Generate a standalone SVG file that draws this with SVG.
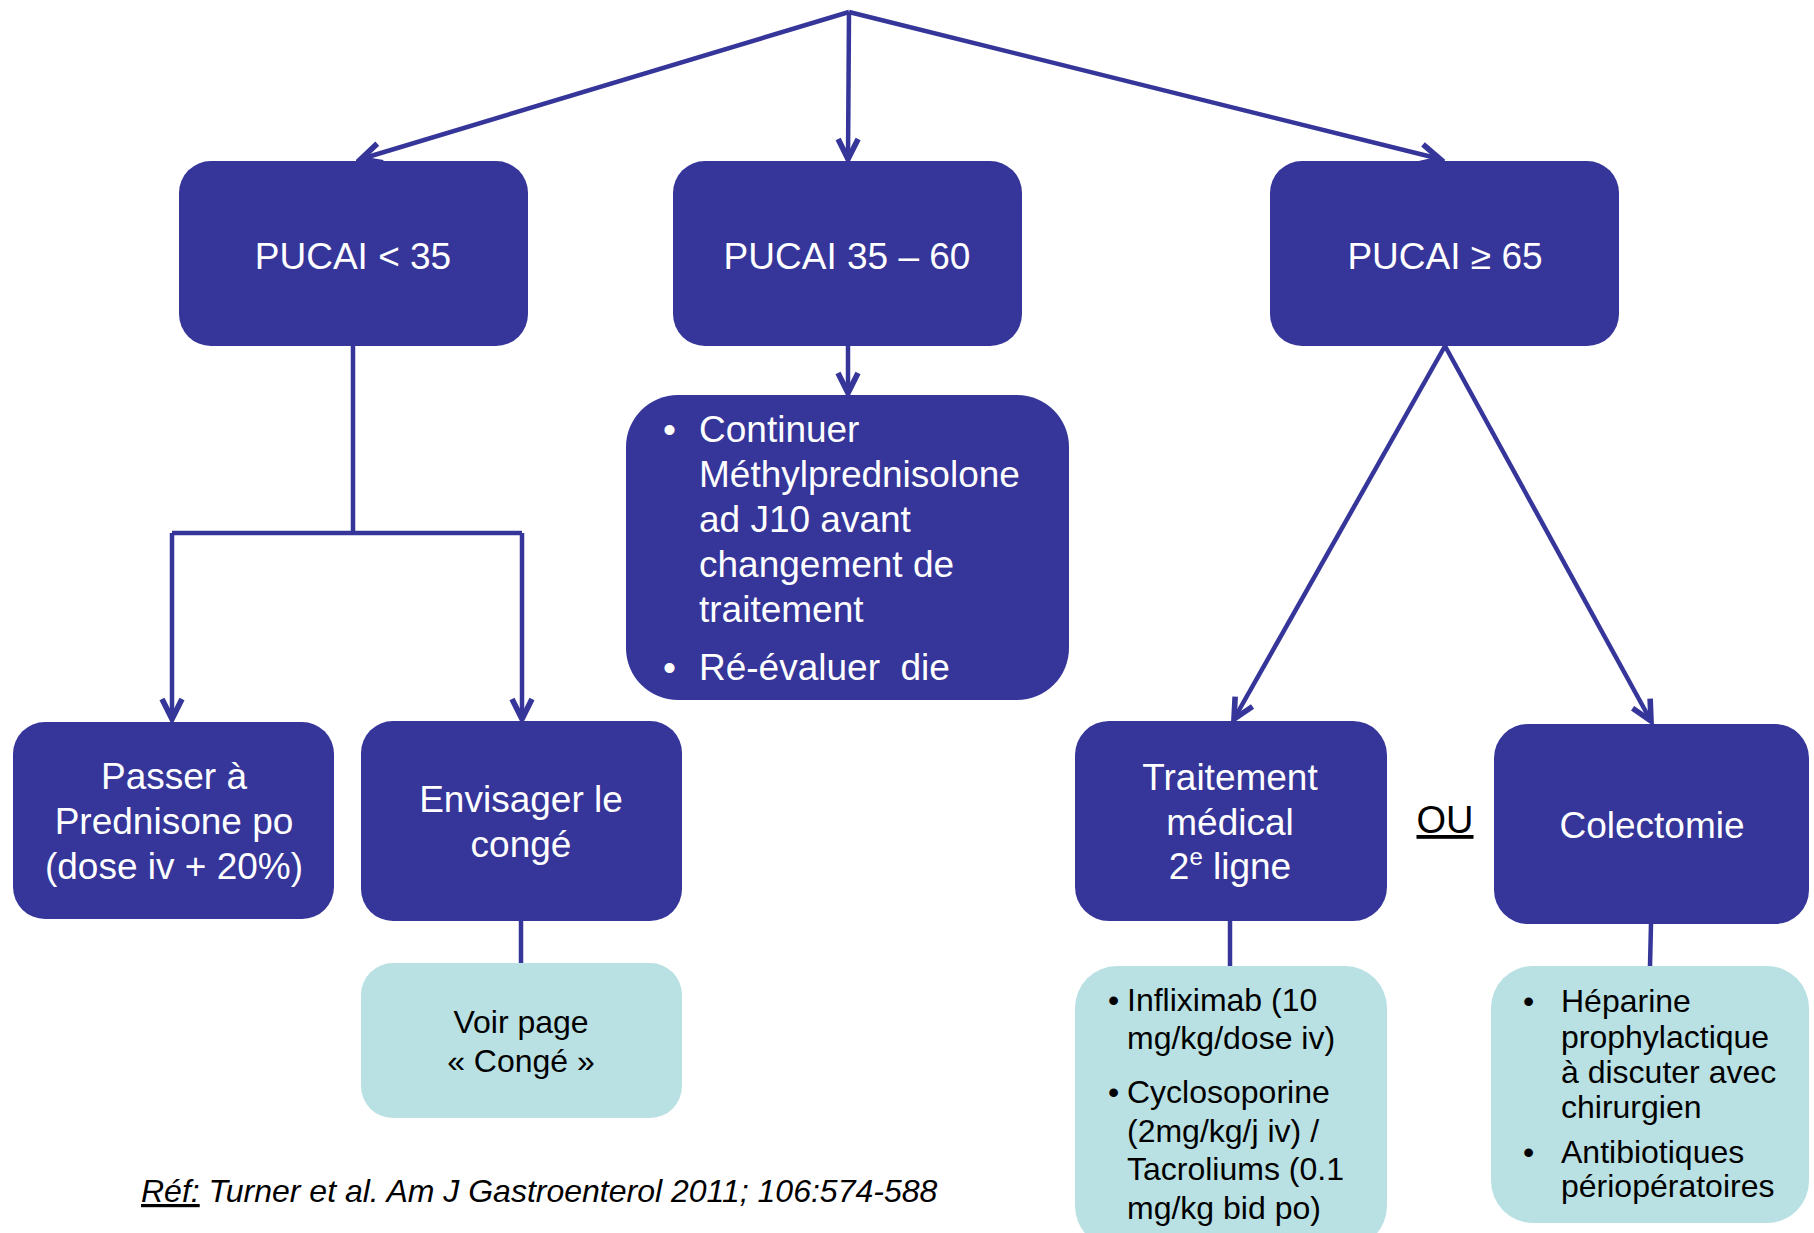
<svg xmlns="http://www.w3.org/2000/svg" width="1814" height="1233" viewBox="0 0 1814 1233">
<style>
.dark{fill:#35359A}
.light{fill:#B9E0E3}
.wt{font-family:"Liberation Sans",Arial,sans-serif;font-size:37px;fill:#FFFFFF}
.bt{font-family:"Liberation Sans",Arial,sans-serif;font-size:32px;fill:#000000}
.c{text-anchor:middle}
.conn{stroke:#35359A;stroke-width:4.5;fill:none;stroke-linejoin:miter}
</style>
<defs>
<marker id="arr" markerUnits="userSpaceOnUse" markerWidth="30" markerHeight="30" viewBox="-20 -12 24 24" refX="0" refY="0" orient="auto">
<path d="M-16,-8 L0,0 L-16,8" fill="none" stroke="#35359A" stroke-width="4.5"/>
</marker>
</defs>
<rect width="1814" height="1233" fill="#FFFFFF"/>
<g id="connectors">
<line class="conn" x1="849" y1="12" x2="361" y2="159" marker-end="url(#arr)"/>
<line class="conn" x1="849" y1="12" x2="848" y2="159" marker-end="url(#arr)"/>
<line class="conn" x1="849" y1="12" x2="1440" y2="159" marker-end="url(#arr)"/>
<line class="conn" x1="848" y1="346" x2="848" y2="393" marker-end="url(#arr)"/>
<polyline class="conn" points="353,346 353,533"/>
<polyline class="conn" points="172,533 522,533"/>
<line class="conn" x1="172" y1="533" x2="172" y2="719" marker-end="url(#arr)"/>
<line class="conn" x1="522" y1="533" x2="522" y2="719" marker-end="url(#arr)"/>
<line class="conn" x1="521" y1="921" x2="521" y2="963"/>
<line class="conn" x1="1445" y1="346" x2="1234" y2="719" marker-end="url(#arr)"/>
<line class="conn" x1="1445" y1="346" x2="1651" y2="721" marker-end="url(#arr)"/>
<line class="conn" x1="1230" y1="921" x2="1230" y2="966"/>
<line class="conn" x1="1651" y1="924" x2="1650" y2="966"/>
</g>
<g id="n-pucai-lt35">
<rect class="dark" x="179" y="161" width="349" height="185" rx="32"/>
<text class="wt c" x="353" y="269">PUCAI &lt; 35</text>
</g>
<g id="n-pucai-35-60">
<rect class="dark" x="673" y="161" width="349" height="185" rx="32"/>
<text class="wt c" x="847" y="269">PUCAI 35 – 60</text>
</g>
<g id="n-pucai-ge65">
<rect class="dark" x="1270" y="161" width="349" height="185" rx="32"/>
<text class="wt c" x="1445" y="269">PUCAI ≥ 65</text>
</g>
<g id="n-continuer">
<rect class="dark" x="626" y="395" width="443" height="305" rx="52"/>
<text class="wt" x="663" y="442">•</text>
<text class="wt" x="699" y="442">Continuer</text>
<text class="wt" x="699" y="487">Méthylprednisolone</text>
<text class="wt" x="699" y="532">ad J10 avant</text>
<text class="wt" x="699" y="577">changement de</text>
<text class="wt" x="699" y="622">traitement</text>
<text class="wt" x="663" y="680">•</text>
<text class="wt" x="699" y="680" xml:space="preserve">Ré-évaluer  die</text>
</g>
<g id="n-passer">
<rect class="dark" x="13" y="722" width="321" height="197" rx="32"/>
<text class="wt c" x="174" y="789">Passer à</text>
<text class="wt c" x="174" y="834">Prednisone po</text>
<text class="wt c" x="174" y="879">(dose iv + 20%)</text>
</g>
<g id="n-envisager">
<rect class="dark" x="361" y="721" width="321" height="200" rx="32"/>
<text class="wt c" x="521" y="812">Envisager le</text>
<text class="wt c" x="521" y="857">congé</text>
</g>
<g id="n-voir">
<rect class="light" x="361" y="963" width="321" height="155" rx="32"/>
<text class="bt c" x="521" y="1033">Voir page</text>
<text class="bt c" x="521" y="1072">« Congé »</text>
</g>
<g id="n-traitement">
<rect class="dark" x="1075" y="721" width="312" height="200" rx="34"/>
<text class="wt c" x="1230" y="790">Traitement</text>
<text class="wt c" x="1230" y="835">médical</text>
<text class="wt c" x="1230" y="879">2<tspan font-size="24" dy="-14">e</tspan><tspan dy="14"> ligne</tspan></text>
</g>
<g id="n-ou">
<text class="c" x="1445" y="833" font-family="Liberation Sans, Arial, sans-serif" font-size="38" fill="#000000" text-decoration="underline">OU</text>
</g>
<g id="n-colectomie">
<rect class="dark" x="1494" y="724" width="315" height="200" rx="34"/>
<text class="wt c" x="1652" y="838">Colectomie</text>
</g>
<g id="n-infliximab">
<rect class="light" x="1075" y="966" width="312" height="282" rx="42"/>
<text class="bt" x="1108" y="1011">•</text>
<text class="bt" x="1127" y="1011">Infliximab (10</text>
<text class="bt" x="1127" y="1049">mg/kg/dose iv)</text>
<text class="bt" x="1108" y="1103">•</text>
<text class="bt" x="1127" y="1103">Cyclosoporine</text>
<text class="bt" x="1127" y="1142">(2mg/kg/j iv) /</text>
<text class="bt" x="1127" y="1180">Tacroliums (0.1</text>
<text class="bt" x="1127" y="1219">mg/kg bid po)</text>
</g>
<g id="n-heparine">
<rect class="light" x="1491" y="966" width="318" height="257" rx="42"/>
<text class="bt" x="1523" y="1012">•</text>
<text class="bt" x="1561" y="1012">Héparine</text>
<text class="bt" x="1561" y="1048">prophylactique</text>
<text class="bt" x="1561" y="1083">à discuter avec</text>
<text class="bt" x="1561" y="1118">chirurgien</text>
<text class="bt" x="1523" y="1163">•</text>
<text class="bt" x="1561" y="1163">Antibiotiques</text>
<text class="bt" x="1561" y="1197">périopératoires</text>
</g>
<g id="reference">
<text x="141" y="1202" font-family="Liberation Sans, Arial, sans-serif" font-size="32" font-style="italic" fill="#000000"><tspan text-decoration="underline">Réf:</tspan> Turner et al. Am J Gastroenterol 2011; 106:574-588</text>
</g>
</svg>
